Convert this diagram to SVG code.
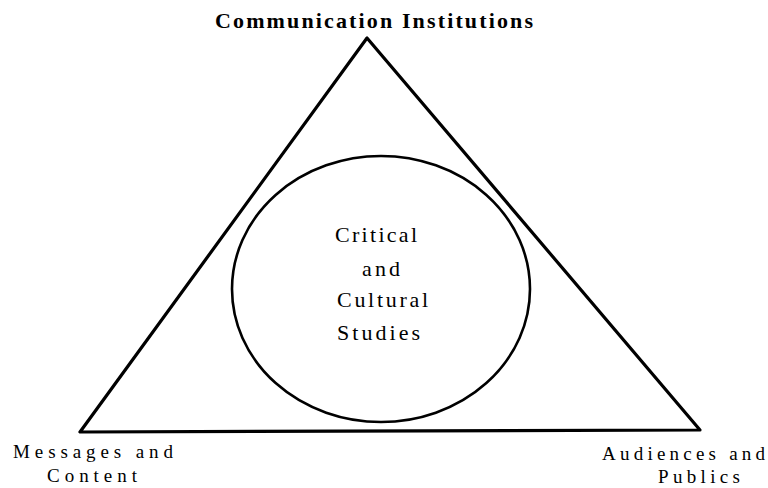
<svg xmlns="http://www.w3.org/2000/svg" width="768" height="488" viewBox="0 0 768 488">
  <style>
    .shape { fill: none; stroke: #000; stroke-linejoin: round; }
    .label { font-family: "Liberation Serif", "DejaVu Serif", serif; font-size: 22px; fill: #000; }
    .title { font-weight: bold; font-size: 22px; }
    .corner { font-size: 19px; }
  </style>
  <rect x="0" y="0" width="768" height="488" fill="#fff"/>

  <!-- framing triangle -->
  <g id="connectors">
    <polygon class="shape" stroke-width="3.2" points="367,38 80,432 700,430"/>
  </g>

  <g id="node-institutions">
    <text class="label title" x="215" y="28" textLength="318" lengthAdjust="spacing">Communication Institutions</text>
  </g>

  <g id="node-messages">
    <text class="label corner" x="13" y="458" textLength="160" lengthAdjust="spacing">Messages and</text>
    <text class="label corner" x="47" y="482" textLength="90" lengthAdjust="spacing">Content</text>
  </g>

  <g id="node-audiences">
    <text class="label corner" x="602" y="460" textLength="163" lengthAdjust="spacing">Audiences and</text>
    <text class="label corner" x="658" y="483" textLength="82" lengthAdjust="spacing">Publics</text>
  </g>

  <!-- central ellipse -->
  <g id="node-critical">
    <ellipse class="shape" stroke-width="2.6" cx="381" cy="289" rx="149" ry="133"/>
    <text class="label" x="335" y="242" textLength="82" lengthAdjust="spacing">Critical</text>
    <text class="label" x="362" y="276" textLength="38" lengthAdjust="spacing">and</text>
    <text class="label" x="337" y="307" textLength="91" lengthAdjust="spacing">Cultural</text>
    <text class="label" x="337" y="340" textLength="83" lengthAdjust="spacing">Studies</text>
  </g>
</svg>
